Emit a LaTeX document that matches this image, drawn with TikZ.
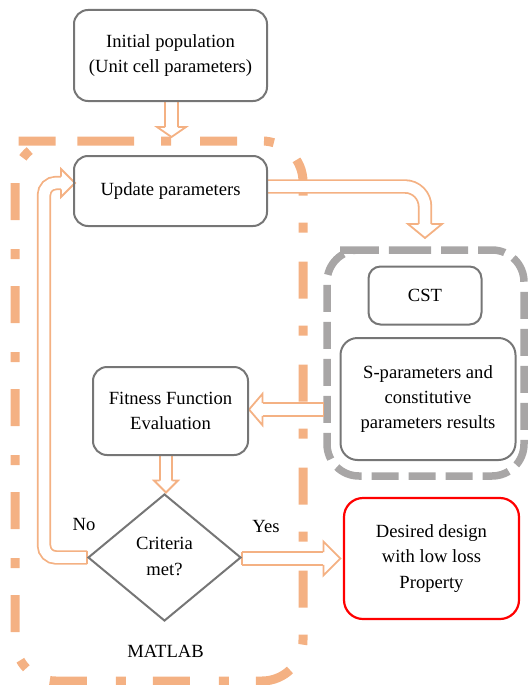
\documentclass[tikz,border=0pt]{standalone}
\usepackage{fontspec}
\setmainfont{Liberation Serif}
\usetikzlibrary{shapes.geometric,backgrounds,calc}
\definecolor{orng}{RGB}{244,177,131}
\definecolor{bgray}{RGB}{118,118,118}
\definecolor{dgray}{RGB}{168,166,166}
\definecolor{rd}{RGB}{255,0,0}
\tikzset{
  box/.style={draw=bgray, line width=2pt, rounded corners=14pt, align=center,
    font=\fontsize{18.6}{25.4}\selectfont, inner sep=2pt},
  redbox/.style={box, draw=rd, line width=2.2pt, rounded corners=19pt},
  decision/.style={diamond, draw=bgray, line width=2pt, align=center, inner sep=0pt,
    font=\fontsize{18.6}{25.4}\selectfont},
  hshaft/.style={draw=orng, line width=1.8pt, double=white, double distance=10.8pt},
  arrline/.style={draw=orng, line width=1.8pt, line join=miter},
  matlabbox/.style={draw=orng, line width=9pt, dash pattern=on 37pt off 27pt on 10pt off 29pt, rounded corners=41pt},
  cstbox/.style={draw=dgray, line width=7.5pt, dash pattern=on 27pt off 10pt, rounded corners=32pt},
  lbl/.style={font=\fontsize{18.6}{22}\selectfont, inner sep=0pt}
}
\newcommand{\hollowhead}[4]{\draw[arrline, fill=white, shift={(#1)}, rotate=#2] (-#4,-6.3) -- (-#4,-#3) -- (0,0) -- (-#4,#3) -- (-#4,6.3);}
\begin{document}
\begin{tikzpicture}[x=1pt,y=-1pt]
\useasboundingbox (0,0) rectangle (530,685);
% nodes
\node[box, minimum width=193pt, minimum height=91pt] (init) at (170.5,55.5) {Initial population\\(Unit cell parameters)};
\node[box, minimum width=193pt, minimum height=70pt] (update) at (170.5,191) {Update parameters};
\node[box, minimum width=155pt, minimum height=88pt] (fitness) at (170.5,411) {Fitness Function\\Evaluation};
\node[box, minimum width=113pt, minimum height=58pt, rounded corners=12pt] (cst) at (425,295.5) {CST};
\node[box, minimum width=175pt, minimum height=122pt, rounded corners=17pt] (sparam) at (428,399) {S-parameters and\\constitutive\\parameters results};
\node[redbox, minimum width=175pt, minimum height=121pt] (desired) at (431.5,558.5) {Desired design\\with low loss\\Property};
\node[decision, minimum width=153pt, minimum height=127pt] (diam) at (164.5,557.5) {\raisebox{4pt}{\begin{tabular}{@{}c@{}}Criteria\\met?\end{tabular}}};
\node[lbl] (no) at (84,524) {No};
\node[lbl] (yes) at (266,526) {Yes};
\node[lbl] (matlab) at (165.5,651) {MATLAB};
% helper coordinates
\coordinate (t1) at (171.5,137);
\coordinate (s2) at ([yshift=4.5pt]update.east);
\coordinate (t2) at (425,238);
\coordinate (t3) at ([yshift=1.5pt]fitness.east);
\coordinate (s3a) at ([xshift=-16pt]sparam.west);
\coordinate (s3) at (s3a |- t3);
\coordinate (t4) at (166,492.5);
\coordinate (t5) at ([xshift=-2.5pt]desired.west);
\coordinate (s5) at (diam.east |- t5);
\coordinate (noc) at (44,0);
\coordinate (t6) at ([xshift=2pt,yshift=8pt]update.west);
\begin{scope}[on background layer]
  % group outlines
  \draw[matlabbox] (56,141) -- (303,141) -- (303,681) -- (15,681) -- (15,141) -- cycle;
  \draw[cstbox] (372,250) -- (524,250) -- (524,476) -- (327,476) -- (327,250) -- cycle;
  % init -> update
  \draw[hshaft, shorten >=10pt] (init.south -| t1) -- (t1);
  \hollowhead{t1}{-90}{14.5}{10}
  % update -> CST
  \draw[hshaft, rounded corners=20pt, shorten >=14pt] (s2) -| (t2);
  \hollowhead{t2}{-90}{17}{14}
  % S-parameters -> fitness
  \draw[hshaft, shorten >=13.5pt] (s3) -- (t3);
  \draw[arrline] ([yshift=6.3pt]s3) -- ([yshift=-6.3pt]s3);
  \hollowhead{t3}{180}{15.7}{13.5}
  % fitness -> decision
  \draw[hshaft, shorten >=12pt] (fitness.south -| t4) -- (t4);
  \hollowhead{t4}{-90}{12}{12}
  % decision -> desired (Yes)
  \draw[hshaft, shorten >=17pt] (s5) -- (t5);
  \draw[arrline] ([yshift=6.3pt]s5) -- ([yshift=-6.3pt]s5);
  \hollowhead{t5}{0}{17}{17}
  % decision -> update (No)
  \draw[hshaft, rounded corners=12pt, shorten >=14pt] (diam.west) -- (noc |- diam.west) -- (noc |- t6) -- (t6);
  \draw[arrline] ([yshift=6.3pt]diam.west) -- ([yshift=-6.3pt]diam.west);
  \hollowhead{t6}{0}{14}{14}
\end{scope}
\end{tikzpicture}
\end{document}
